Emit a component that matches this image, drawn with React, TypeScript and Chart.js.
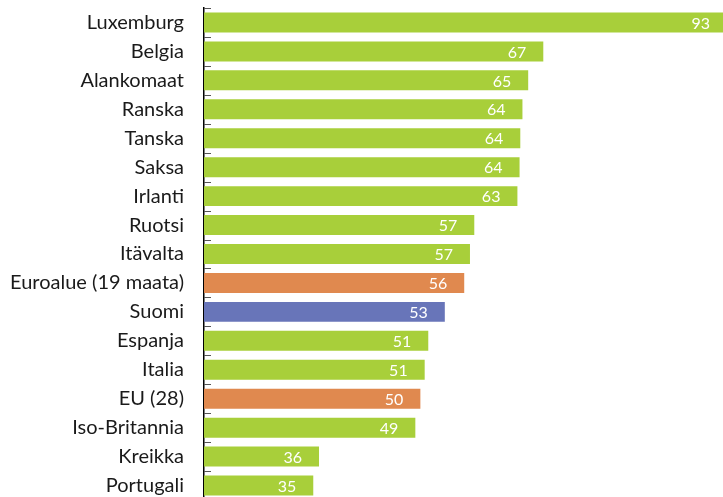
import React, { useEffect, useRef } from "react";
import { Chart, registerables } from "chart.js";

Chart.register(...registerables);

const categories = [
  "Luxemburg", "Belgia", "Alankomaat", "Ranska", "Tanska", "Saksa", "Irlanti",
  "Ruotsi", "Itävalta", "Euroalue (19 maata)", "Suomi", "Espanja", "Italia",
  "EU (28)", "Iso-Britannia", "Kreikka", "Portugali",
];
const values = [92.8, 67.0, 64.9, 64.1, 63.8, 63.7, 63.4, 57.4, 56.8, 56.0, 53.3, 51.0, 50.5, 49.9, 49.2, 35.8, 35.0];
const valueLabels = ["93", "67", "65", "64", "64", "64", "63", "57", "57", "56", "53", "51", "51", "50", "49", "36", "35"];
const groups = ["c", "c", "c", "c", "c", "c", "c", "c", "c", "a", "f", "c", "c", "a", "c", "c", "c"];

const GREEN = "#a8cf3a";
const ORANGE = "#e0894f";
const BLUE = "#6875b9";

const colorFor = (g: string) => (g === "a" ? ORANGE : g === "f" ? BLUE : GREEN);

const decorPlugin = {
  id: "decor",
  afterDatasetsDraw(chart: any) {
    const ctx = chart.ctx;
    const y = chart.scales.y;
    const area = chart.chartArea;
    ctx.save();
    ctx.strokeStyle = "#555";
    ctx.lineWidth = 1;
    for (let k = 0; k <= categories.length; k++) {
      const py = Math.round(y.getPixelForValue(k - 0.5)) + 0.5;
      ctx.beginPath();
      ctx.moveTo(area.left, py);
      ctx.lineTo(area.left + 7, py);
      ctx.stroke();
    }
    const meta = chart.getDatasetMeta(0);
    ctx.fillStyle = "#ffffff";
    ctx.font = "16px Lato";
    ctx.textAlign = "right";
    ctx.textBaseline = "middle";
    meta.data.forEach((bar: any, i: number) => {
      const x = Math.min(bar.x, 727) - 17;
      ctx.fillText(valueLabels[i], x, bar.y + 1);
    });
    ctx.restore();
  },
};

export default function App() {
  const ref = useRef<HTMLCanvasElement | null>(null);
  useEffect(() => {
    if (!ref.current) return;
    const chart = new Chart(ref.current, {
      type: "bar",
      data: {
        labels: categories,
        datasets: [
          {
            data: values,
            backgroundColor: groups.map(colorFor),
            borderWidth: 0,
            barPercentage: 0.69,
            categoryPercentage: 1,
          },
        ],
      },
      options: {
        indexAxis: "y",
        animation: false,
        responsive: false,
        maintainAspectRatio: false,
        devicePixelRatio: 1,
        layout: { padding: { top: 8, left: 0, right: 0, bottom: 0 } },
        plugins: { legend: { display: false }, tooltip: { enabled: false } },
        scales: {
          x: { display: false, min: 19.8, max: 92 },
          y: {
            offset: true,
            grid: { display: true, drawOnChartArea: false, drawTicks: false },
            border: { display: true, color: "#000", width: 1.5 },
            ticks: {
              color: "#1a1a1a",
              font: { family: "Lato", size: 20 },
              padding: 20,
            },
            afterFit: (s: any) => {
              s.width = 204;
              s.paddingTop = 0;
              s.paddingBottom = 0;
            },
          },
        },
      },
      plugins: [decorPlugin],
    });
    return () => chart.destroy();
  }, []);
  return (
    <div style={{ position: "fixed", left: 0, top: 0, width: 723, height: 500, background: "#fff" }}>
      <canvas ref={ref} width={723} height={500} style={{ display: "block" }} />
    </div>
  );
}
